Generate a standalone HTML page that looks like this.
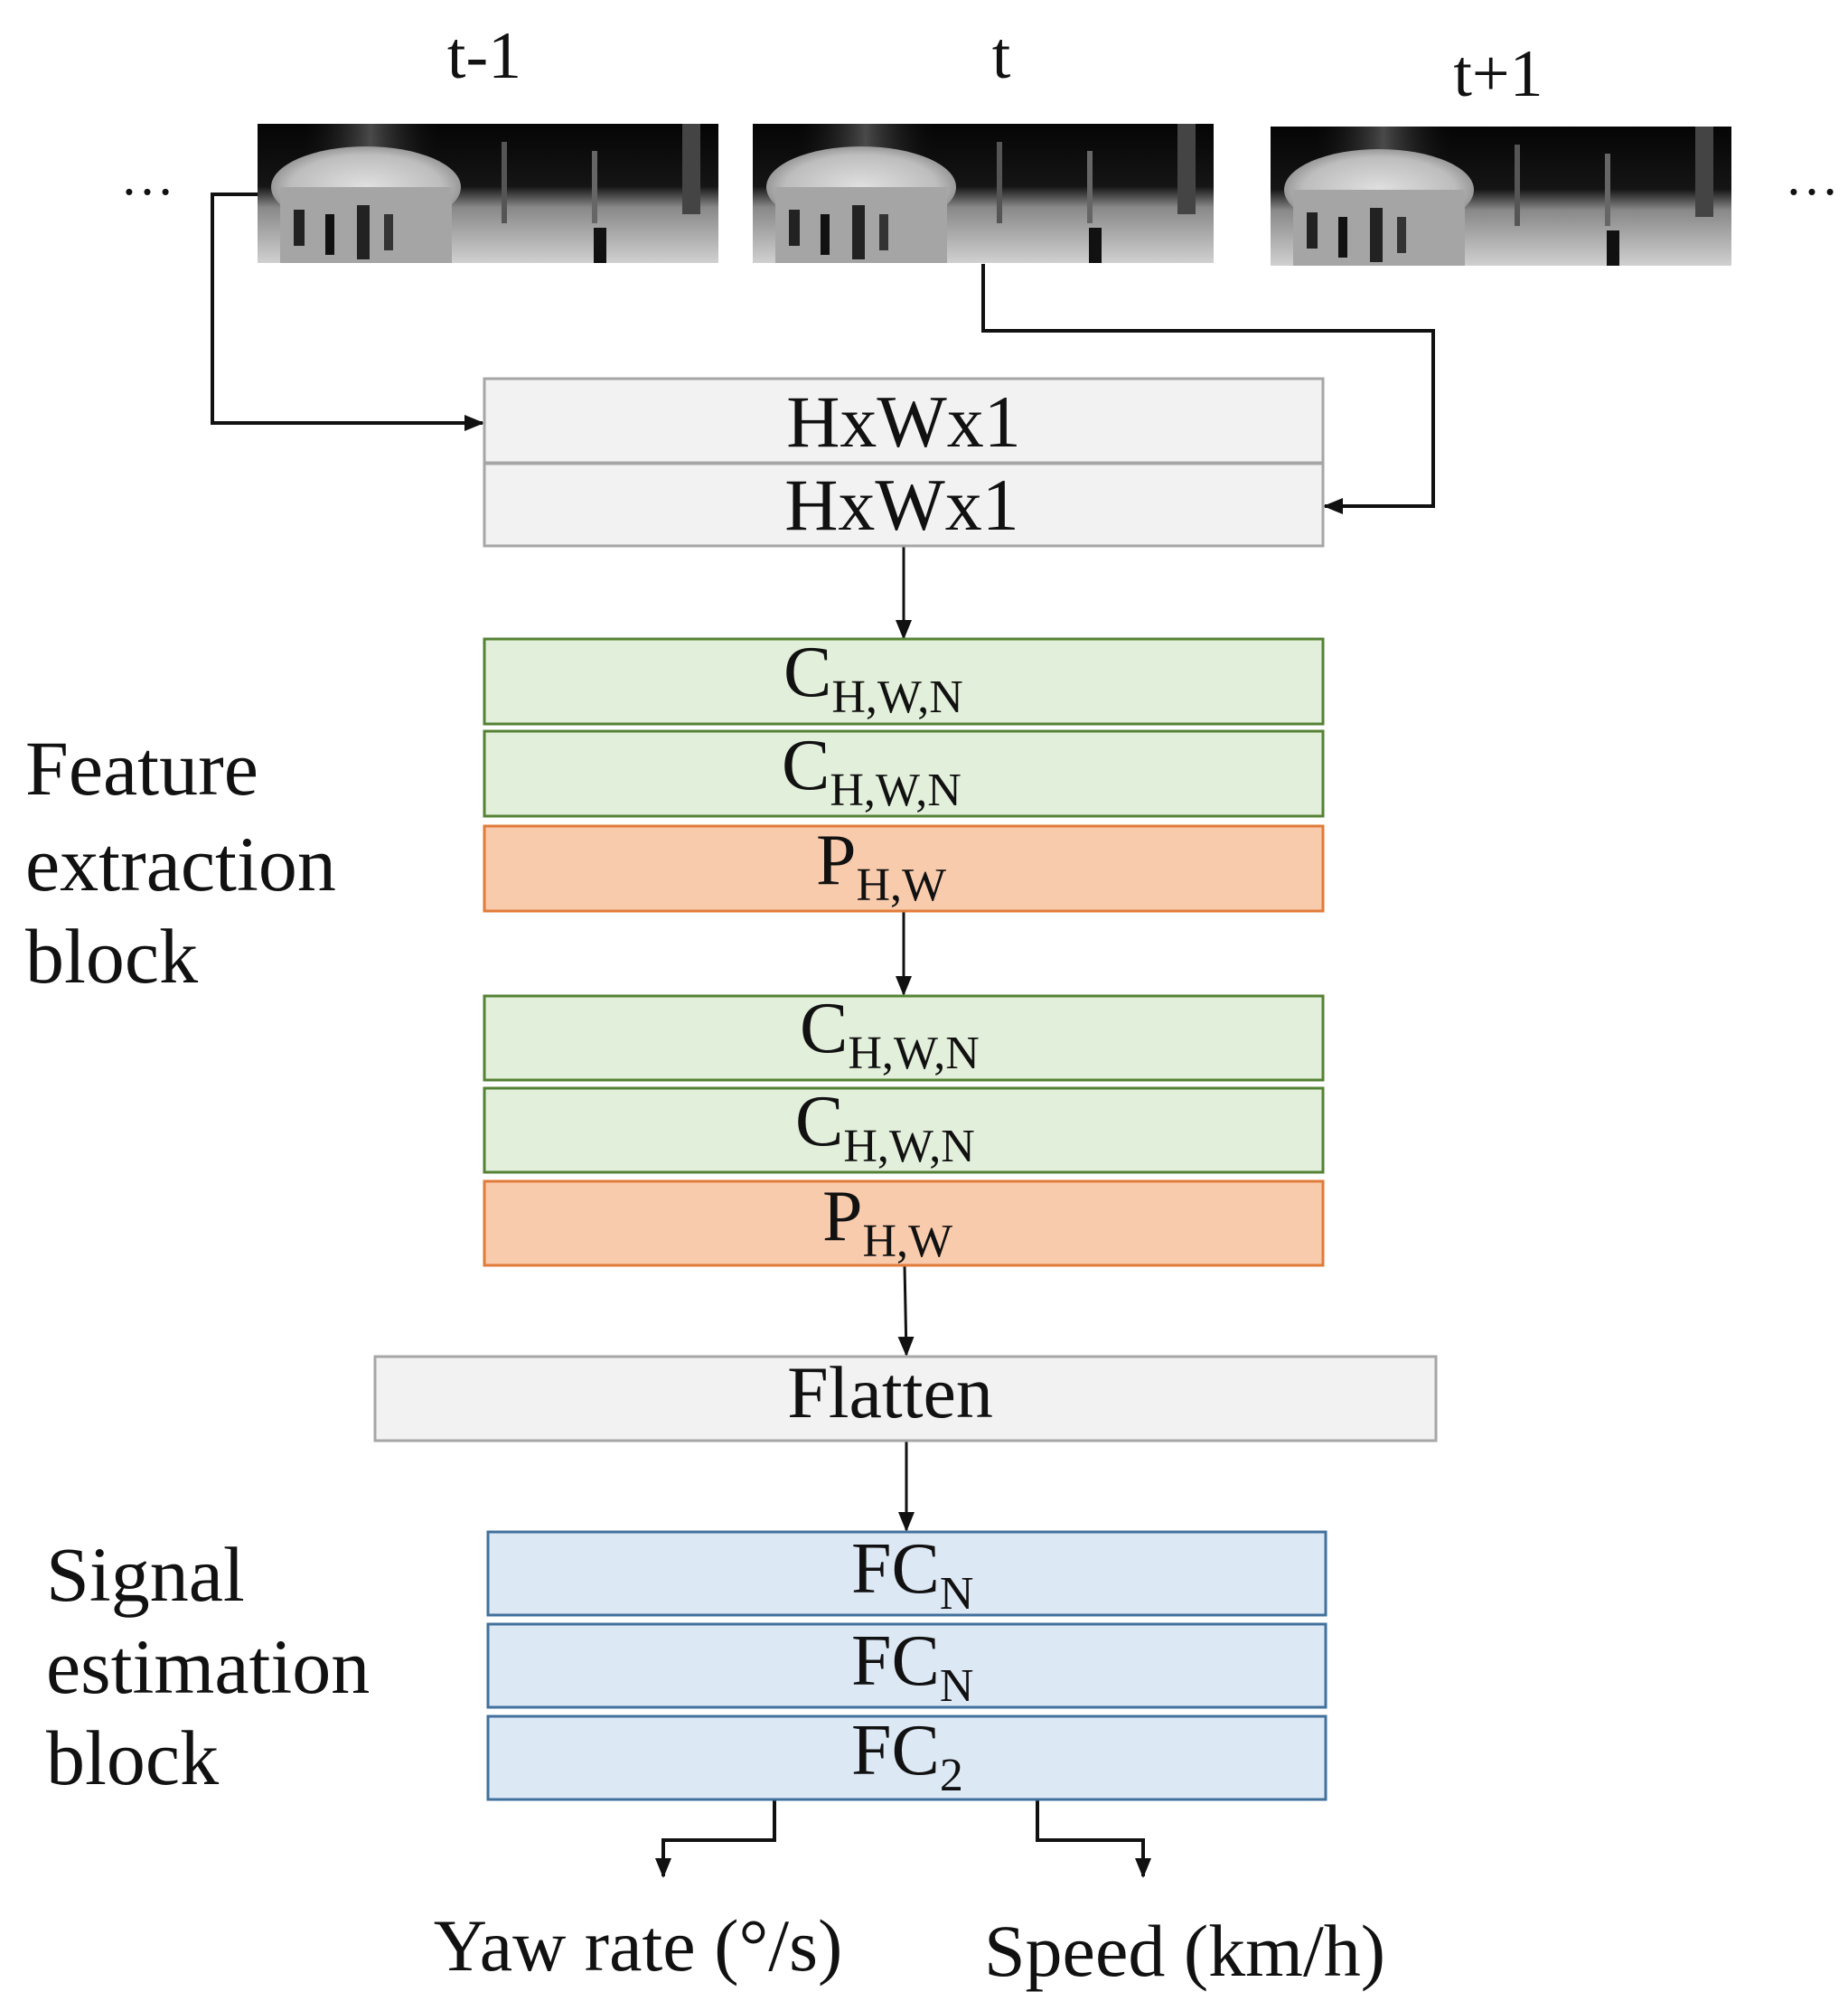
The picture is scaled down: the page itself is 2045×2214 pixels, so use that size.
<!DOCTYPE html>
<html><head><meta charset="utf-8"><style>
html,body{margin:0;padding:0;background:#fff}
svg{display:block}
text{font-family:"Liberation Serif",serif;fill:#111}
</style></head><body>
<svg width="2045" height="2214" viewBox="0 0 2045 2214" xmlns="http://www.w3.org/2000/svg">
<defs>
<linearGradient id="g1" x1="0" y1="0" x2="0" y2="1">
<stop offset="0" stop-color="#050505"/><stop offset="0.45" stop-color="#151515"/><stop offset="0.6" stop-color="#888"/><stop offset="1" stop-color="#d0d0d0"/>
</linearGradient>
<radialGradient id="dome" cx="0.5" cy="0.5" r="0.5">
<stop offset="0" stop-color="#e0e0e0"/><stop offset="0.8" stop-color="#bdbdbd"/><stop offset="1" stop-color="#999"/>
</radialGradient>
<linearGradient id="col" x1="0" y1="0" x2="1" y2="0">
<stop offset="0" stop-color="#000" stop-opacity="0"/><stop offset="0.5" stop-color="#666" stop-opacity="0.7"/><stop offset="1" stop-color="#000" stop-opacity="0"/>
</linearGradient>
<g id="img">
<rect x="0" y="0" width="510" height="154" fill="url(#g1)"/>
<rect x="40" y="0" width="170" height="70" fill="url(#col)"/>
<ellipse cx="120" cy="70" rx="105" ry="45" fill="url(#dome)"/>
<rect x="25" y="70" width="190" height="84" fill="#a5a5a5"/>
<rect x="40" y="95" width="12" height="40" fill="#222"/><rect x="75" y="100" width="10" height="45" fill="#111"/><rect x="110" y="90" width="14" height="60" fill="#222"/><rect x="140" y="100" width="10" height="40" fill="#333"/>
<rect x="270" y="20" width="6" height="90" fill="#555"/><rect x="370" y="30" width="6" height="80" fill="#666"/><rect x="470" y="0" width="20" height="100" fill="#444"/>
<rect x="372" y="115" width="14" height="39" fill="#111"/>
</g>
<marker id="ar" markerWidth="22" markerHeight="18" refX="20" refY="9" orient="auto" markerUnits="userSpaceOnUse"><path d="M0,0 L22,9 L0,18 z" fill="#111"/></marker>
</defs>

<use href="#img" x="285" y="137"/>
<use href="#img" x="833" y="137"/>
<use href="#img" x="1406" y="140"/>

<text x="536" y="86" font-size="74" text-anchor="middle">t-1</text>
<text x="1108" y="86" font-size="74" text-anchor="middle">t</text>
<text x="1658" y="106" font-size="74" text-anchor="middle">t+1</text>
<text x="163" y="215" font-size="60" text-anchor="middle">…</text>
<text x="2005" y="215" font-size="60" text-anchor="middle">…</text>

<g stroke="#111" stroke-width="4" fill="none">
<polyline points="285,215 235,215 235,468 534,468" marker-end="url(#ar)"/>
<polyline points="1088,292 1088,366 1586,366 1586,560 1466,560" marker-end="url(#ar)"/>
</g>
<g stroke="#111" stroke-width="3" fill="none">
<line x1="1000" y1="604" x2="1000" y2="706" marker-end="url(#ar)"/>
<line x1="1000" y1="1008" x2="1000" y2="1100" marker-end="url(#ar)"/>
<line x1="1001" y1="1400" x2="1003" y2="1499" marker-end="url(#ar)"/>
<line x1="1003" y1="1594" x2="1003" y2="1693" marker-end="url(#ar)"/>
</g>
<g stroke="#111" stroke-width="4" fill="none">
<polyline points="857,1991 857,2036 734,2036 734,2076" marker-end="url(#ar)"/>
<polyline points="1148,1991 1148,2036 1265,2036 1265,2076" marker-end="url(#ar)"/>
</g>

<g stroke="#a6a6a6" stroke-width="3" fill="#f2f2f2">
<rect x="536" y="419" width="928" height="93"/>
<rect x="536" y="513" width="928" height="91"/>
<rect x="415" y="1501" width="1174" height="93"/>
</g>
<g stroke="#548235" stroke-width="3" fill="#e2efda">
<rect x="536" y="707" width="928" height="94"/>
<rect x="536" y="809" width="928" height="94"/>
<rect x="536" y="1102" width="928" height="93"/>
<rect x="536" y="1204" width="928" height="93"/>
</g>
<g stroke="#e07b39" stroke-width="3" fill="#f8cbad">
<rect x="536" y="914" width="928" height="94"/>
<rect x="536" y="1307" width="928" height="93"/>
</g>
<g stroke="#41719c" stroke-width="3" fill="#dde8f5">
<rect x="540" y="1695" width="927" height="92"/>
<rect x="540" y="1797" width="927" height="92"/>
<rect x="540" y="1899" width="927" height="92"/>
</g>

<g font-size="82" text-anchor="middle">
<text x="1000" y="494">HxWx1</text>
<text x="998" y="586">HxWx1</text>
<text x="985" y="1568">Flatten</text>
</g>
<g font-size="80">
<text x="867" y="770">C<tspan font-size="52" dy="18">H,W,N</tspan></text>
<text x="865" y="873">C<tspan font-size="52" dy="18">H,W,N</tspan></text>
<text x="903" y="978">P<tspan font-size="52" dy="18">H,W</tspan></text>
<text x="885" y="1164">C<tspan font-size="52" dy="18">H,W,N</tspan></text>
<text x="880" y="1267">C<tspan font-size="52" dy="18">H,W,N</tspan></text>
<text x="910" y="1372">P<tspan font-size="52" dy="18">H,W</tspan></text>
<text x="942" y="1762">FC<tspan font-size="52" dy="18">N</tspan></text>
<text x="942" y="1864">FC<tspan font-size="52" dy="18">N</tspan></text>
<text x="942" y="1963">FC<tspan font-size="52" dy="18">2</tspan></text>
</g>

<g font-size="86">
<text x="28" y="879">Feature</text>
<text x="28" y="985">extraction</text>
<text x="28" y="1087">block</text>
<text x="51" y="1771">Signal</text>
<text x="51" y="1873">estimation</text>
<text x="51" y="1974">block</text>
</g>
<g font-size="82" text-anchor="middle">
<text x="706" y="2180">Yaw rate (°/s)</text>
<text x="1311" y="2186">Speed (km/h)</text>
</g>
</svg>
</body></html>
